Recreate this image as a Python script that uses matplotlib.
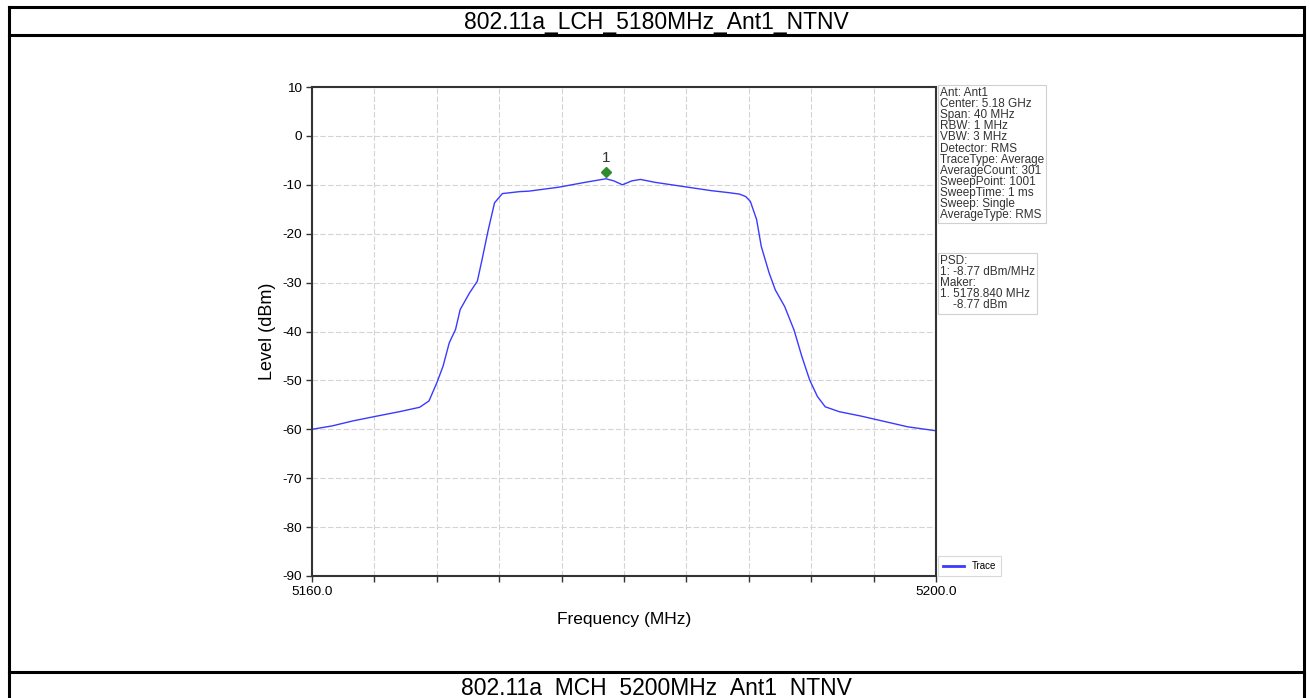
#!/usr/bin/env python

""" spectrum mask plot for 802.11a LCH 5180 MHz """

import matplotlib
matplotlib.use("Agg")
import matplotlib.pyplot as plt
import matplotlib.transforms as mtransforms
from matplotlib.lines import Line2D

plt.rcParams['font.family'] = ['Liberation Sans', 'DejaVu Sans']
plt.rcParams['axes.unicode_minus'] = False

# trace (MHz, dBm)
freq = [5160.0, 5161.3, 5162.6, 5164.0, 5165.6, 5166.9, 5167.5, 5168.0, 5168.4,
        5168.8, 5169.2, 5169.5, 5170.1, 5170.6, 5170.9, 5171.3, 5171.7, 5172.2,
        5173.3, 5173.9, 5175.8, 5177.5, 5178.84, 5179.35, 5179.9, 5180.5, 5181.05,
        5182.0, 5183.9, 5185.6, 5186.7, 5187.4, 5187.8, 5188.1, 5188.5, 5188.8,
        5189.3, 5189.7, 5190.3, 5190.9, 5191.4, 5191.9, 5192.4, 5192.9, 5193.8,
        5195.2, 5196.7, 5198.2, 5200.0]
level = [-60.0, -59.3, -58.3, -57.4, -56.4, -55.5, -54.2, -50.5, -47.1,
         -42.3, -39.6, -35.5, -32.1, -29.7, -25.3, -19.2, -13.7, -11.8,
         -11.4, -11.3, -10.5, -9.5, -8.77, -9.2, -10.0, -9.2, -8.9,
         -9.5, -10.4, -11.2, -11.6, -11.9, -12.4, -13.4, -17.1, -22.6,
         -28.0, -31.5, -34.9, -39.7, -45.1, -49.9, -53.3, -55.4, -56.4,
         -57.3, -58.4, -59.5, -60.3]

marker_freq = 5178.84
marker_level = -8.77

x_ticks = [5160, 5164, 5168, 5172, 5176, 5180, 5184, 5188, 5192, 5196, 5200]
y_ticks = [10, 0, -10, -20, -30, -40, -50, -60, -70, -80, -90]

info_text = ("Ant: Ant1\nCenter: 5.18 GHz\nSpan: 40 MHz\nRBW: 1 MHz\nVBW: 3 MHz\n"
             "Detector: RMS\nTraceType: Average\nAverageCount: 301\nSweepPoint: 1001\n"
             "SweepTime: 1 ms\nSweep: Single\nAverageType: RMS")
psd_text = "PSD:\n1: -8.77 dBm/MHz\nMaker:\n1. 5178.840 MHz\n    -8.77 dBm"

title_top = "802.11a_LCH_5180MHz_Ant1_NTNV"
title_bottom = "802.11a_MCH_5200MHz_Ant1_NTNV"


def main():
    """ main body """
    fig = plt.figure(figsize=(13.1, 6.98), dpi=100)
    W, H = 1310, 698

    # table frame
    def hline(y, x0=9, x1=1304):
        fig.add_artist(Line2D([x0 / W, x1 / W], [1 - y / H, 1 - y / H], color='black', lw=2.2))

    def vline(x, y0=7, y1=698):
        fig.add_artist(Line2D([x / W, x / W], [1 - y0 / H, 1 - y1 / H], color='black', lw=2.2))

    hline(7)
    hline(35)
    hline(672)
    vline(9)
    vline(1304)
    fig.text(656 / W, 1 - 22 / H, title_top, ha='center', va='center', fontsize=16.5)
    fig.text(656 / W, 1 - 688 / H, title_bottom, ha='center', va='center', fontsize=16.5)

    ax = fig.add_axes([312 / W, 1 - 576 / H, 624 / W, 489 / H])
    ax.plot(freq, level, color='#3a3aff', lw=1.0, label='Trace')

    # marker 1, drawn a little above the trace
    offset = mtransforms.offset_copy(ax.transData, fig=fig, x=0, y=7, units='dots')
    ax.plot([marker_freq], [marker_level], marker='D', color='#2e8b2e', ms=5.5,
            transform=offset, ls='none')
    offset_txt = mtransforms.offset_copy(ax.transData, fig=fig, x=0, y=14, units='dots')
    ax.text(marker_freq, marker_level, '1', ha='center', va='bottom', fontsize=11,
            color='#333333', transform=offset_txt)

    ax.set_xlim(5160, 5200)
    ax.set_ylim(-90, 10)
    ax.set_xticks(x_ticks)
    ax.set_xticklabels(['5160.0'] + [''] * 9 + ['5200.0'])
    ax.set_yticks(y_ticks)
    ax.tick_params(labelsize=9.7, length=4, width=1, color='#333333')
    ax.grid(True, color='#d4d4d4', ls=(0, (5, 2)), lw=0.8)
    for side in ['left', 'top', 'right', 'bottom']:
        ax.spines[side].set_color('#333333')
        ax.spines[side].set_linewidth(1.5)
    ax.set_xlabel('Frequency (MHz)', fontsize=12.5, labelpad=10)
    ax.set_ylabel('Level (dBm)', fontsize=13, labelpad=4)

    fig.text(940 / W, 1 - 87 / H, info_text, ha='left', va='top', fontsize=8.5,
             linespacing=0.9, color='#333333',
             bbox=dict(boxstyle='square,pad=0.2', fc='white', ec='#d0d0d0', lw=0.8))
    fig.text(940 / W, 1 - 255 / H, psd_text, ha='left', va='top', fontsize=8.5,
             linespacing=0.9, color='#333333',
             bbox=dict(boxstyle='square,pad=0.2', fc='white', ec='#d0d0d0', lw=0.8))

    leg = ax.legend(loc='lower left', bbox_to_anchor=(1.003, 0.0), fontsize=7,
                    frameon=True, fancybox=False, handlelength=2.2,
                    borderpad=0.5, borderaxespad=0.0)
    leg.get_frame().set_edgecolor('#d0d0d0')
    leg.get_frame().set_linewidth(0.8)
    leg.get_lines()[0].set_linewidth(2)

    fig.savefig('out.png', dpi=100)
    plt.close(fig)


if __name__ == "__main__":
    main()
